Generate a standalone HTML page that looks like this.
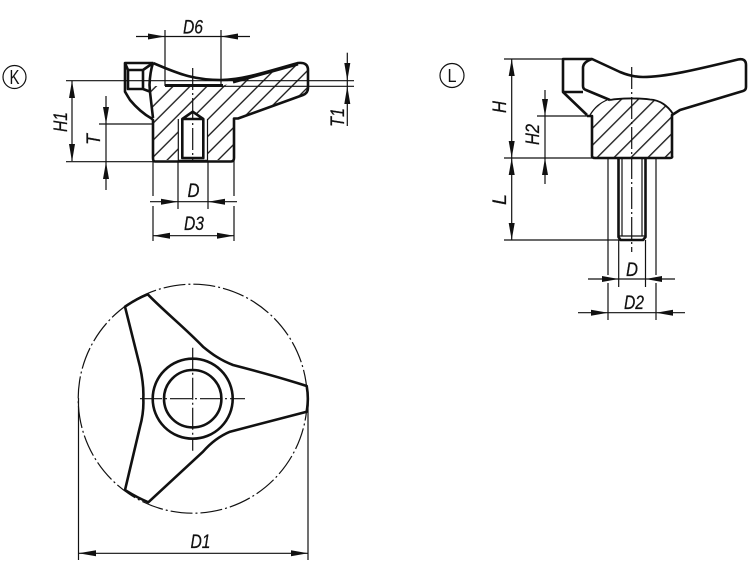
<!DOCTYPE html>
<html><head><meta charset="utf-8"><style>
html,body{margin:0;padding:0;background:#fff}
svg{display:block}
text{font-family:"Liberation Sans",sans-serif;font-style:italic;font-size:19px;fill:#111;stroke:#111;stroke-width:.25}
.t{stroke:#111;stroke-width:1.2;fill:none}
.k{stroke:#111;stroke-width:2.6;fill:none;stroke-linejoin:round}
.c{stroke:#111;stroke-width:1.2;fill:none;stroke-dasharray:22 3 2 3}
.a{fill:#111}
</style></head><body>
<svg width="750" height="563" viewBox="0 0 750 563" xmlns="http://www.w3.org/2000/svg">
<defs>
<pattern id="hk" width="12" height="12" patternUnits="userSpaceOnUse" patternTransform="rotate(-45)">
<rect width="12" height="12" fill="#fff"/><line x1="0" y1="3.4" x2="12" y2="3.4" stroke="#111" stroke-width="1.3"/>
</pattern>
<pattern id="hl" width="12" height="12" patternUnits="userSpaceOnUse" patternTransform="rotate(-45)">
<rect width="12" height="12" fill="#fff"/><line x1="0" y1="5.6" x2="12" y2="5.6" stroke="#111" stroke-width="1.3"/>
</pattern>
</defs>

<!-- K marker -->
<circle class="t" cx="14.5" cy="77" r="11.5"/>
<text x="9.5" y="84" style="font-style:normal;font-size:20px;stroke-width:0" textLength="10" lengthAdjust="spacingAndGlyphs">K</text>

<!-- K body -->
<path d="M125 63H153L165 68C180 74 195 80 221 80C240 80 260 74 298 63Q308 62 308 70V88Q308 93 303 95L240 118H234V158Q234 161 231 161H155Q153 161 153 158V118L151 118Q140 112 130 100L125 91.7Z" fill="#fff"/>
<path d="M150 86H165V86.5H221L233 82L298 64Q307 63 307 70V88Q307 93 303 95L240 118H234V160H208V119H178V160H153V118L150 92Z" fill="url(#hk)"/>
<rect x="179" y="119" width="28" height="39" fill="#fff"/>
<path d="M182 120L192.7 111.7L203.5 120Z" fill="#fff"/>
<rect x="178" y="158" width="30" height="3" fill="#fff"/>
<path class="k" d="M153 63H125V91.7L130 100Q140 112 151.5 118.5L153 120V158Q153 161.5 155 161.5H231Q234 161.5 234 158V118.5H238L303 95Q308 93 308 88V70Q308 62 298 63C260 74 240 80 221 80C195 80 180 74 165 68L153 63"/>
<path class="k" d="M128 70H143V89H128ZM125 63L128 70M153 63L143 70M143 89L151 92M153 63Q150 72 149.5 85L150 92L153 118"/>
<path class="k" style="stroke-width:3" d="M165 85.5H223M233 82L298 64"/>
<path class="k" d="M182.3 158V119L192.7 111.7L203.3 119V158ZM182.3 119H203.3M178 161H208"/>
<path class="t" d="M178.3 119V161M207.5 119V161"/>

<!-- K dims -->
<path class="t" d="M136 36.5H250M165 30V86M221 30V84"/>
<polygon class="a" points="165,36.5 148,33.5 148,39.5"/><polygon class="a" points="221,36.5 238,33.5 238,39.5"/>
<text x="183" y="33.5" textLength="20" lengthAdjust="spacingAndGlyphs">D6</text>
<path class="t" d="M66 80.7H354M165 86.3H354M66 161.7H153M72 81V161M99 124H153M106 96V190"/>
<polygon class="a" points="72,80.7 69,98 75,98"/><polygon class="a" points="72,161.7 69,144 75,144"/>
<polygon class="a" points="106,124 103,107 109,107"/><polygon class="a" points="106,162 103,179 109,179"/>
<path class="t" d="M347.3 52.7V126"/>
<polygon class="a" points="347.3,80.7 344.3,63 350.3,63"/><polygon class="a" points="347.3,86.3 344.3,104 350.3,104"/>
<text transform="translate(67,122) rotate(-90)" x="-10" y="0" textLength="20" lengthAdjust="spacingAndGlyphs">H1</text>
<text transform="translate(100,139) rotate(-90)" x="-6" y="0" textLength="11" lengthAdjust="spacingAndGlyphs">T</text>
<text transform="translate(344,117) rotate(-90)" x="-10" y="0" textLength="19" lengthAdjust="spacingAndGlyphs">T1</text>
<path class="c" d="M192.7 68V160"/>
<path class="t" d="M178 161V209M208 161V209M153 161V196M234 161V196M150 201.7H237M153 206V241M234 206V241M153 235.7H234"/>
<polygon class="a" points="178,201.7 161,198.7 161,204.7"/><polygon class="a" points="208,201.7 225,198.7 225,204.7"/>
<polygon class="a" points="153,235.7 170,232.7 170,238.7"/><polygon class="a" points="234,235.7 217,232.7 217,238.7"/>
<text x="187.5" y="197" textLength="12" lengthAdjust="spacingAndGlyphs">D</text>
<text x="184" y="230" textLength="20" lengthAdjust="spacingAndGlyphs">D3</text>

<!-- L marker -->
<circle class="t" cx="452" cy="75.5" r="12"/>
<text x="447.5" y="82" style="font-style:normal;font-size:18px;stroke-width:0" textLength="9" lengthAdjust="spacingAndGlyphs">L</text>

<!-- L body -->
<path d="M592 116C596 108 600 103 607 100C620 98 640 98 650 99.5C660 100 668 106 673 114L672.7 156Q672.7 158 670 158H595Q592 158 592 156Z" fill="url(#hl)"/>
<path class="k" d="M587 115L563 92V59H592L620 72Q632 77 643 77C665 77 695 70 738 59.5Q746 58 746 65V87Q746 90 743 91L680 110L672 115V156Q672.7 158 670 158H595Q592 158 592 156V116H587"/>
<path class="k" d="M592 59Q583 62 583 68V86Q583 89 586 90L610 100"/>
<path class="k" d="M563 92H583"/>
<path class="t" d="M590 115C595 107 600 103 607 100"/>
<path class="k" style="stroke-width:1.8" d="M610 100C620 98 640 98 650 99.5C660 100 668 106 673 114"/>
<path class="k" d="M618.5 158V237L620.5 240H643L645.5 237V158"/>
<path class="t" d="M622 158V236M642 158V236M619 236H645"/>
<path class="c" d="M631.7 67V252"/>
<path class="t" d="M504 59H563M504 158H592M504 240H620M511.7 59V240M537 116H587M545 90V184"/>
<polygon class="a" points="511.7,59 508.7,76 514.7,76"/><polygon class="a" points="511.7,158 508.7,141 514.7,141"/>
<polygon class="a" points="511.7,158 508.7,175 514.7,175"/><polygon class="a" points="511.7,240 508.7,223 514.7,223"/>
<polygon class="a" points="545,116 542,99 548,99"/><polygon class="a" points="545,158 542,175 548,175"/>
<text transform="translate(506,107) rotate(-90)" x="-6" y="0" textLength="12" lengthAdjust="spacingAndGlyphs">H</text>
<text transform="translate(506,199) rotate(-90)" x="-6" y="0" textLength="11" lengthAdjust="spacingAndGlyphs">L</text>
<text transform="translate(539,135) rotate(-90)" x="-10" y="0" textLength="21" lengthAdjust="spacingAndGlyphs">H2</text>
<path class="t" d="M608 158V275M656 158V275M608 283V320M656 283V320M618.7 240V287M645.5 240V287M588 279H675M578 312.7H685"/>
<polygon class="a" points="618.7,279 602,276 602,282"/><polygon class="a" points="645.5,279 662,276 662,282"/>
<polygon class="a" points="608,312.7 591,309.7 591,315.7"/><polygon class="a" points="656,312.7 673,309.7 673,315.7"/>
<text x="626" y="276" textLength="12" lengthAdjust="spacingAndGlyphs">D</text>
<text x="624" y="309" textLength="20" lengthAdjust="spacingAndGlyphs">D2</text>

<!-- Plan view -->
<circle class="c" cx="192.7" cy="398.7" r="114.5"/>
<path class="k" d="M306.7 386C285 379 260 372 233 365C220 360 212 354 203 346.7C185 328 165 312 147.7 294.3Q136 299 125 306.7C130 327 135 347 140 366.7Q144 385 143.3 398.7Q144 412 140 426.7L125 490Q136 497 148.3 502.3L203 451.7Q215 438 230 431.7L306.7 411.7Q309 399 306.7 386Z"/>
<circle class="k" cx="192.7" cy="398.7" r="40"/>
<circle class="k" cx="192.7" cy="398.7" r="28.7"/>
<path class="t" stroke-dasharray="22 3 2 3" d="M140 398.7H245M192.7 347.7V450.7"/>
<path class="t" d="M78.5 398V560M308 398V560M78.5 553.3H308"/>
<polygon class="a" points="78.5,553.3 96,550.3 96,556.3"/><polygon class="a" points="308,553.3 291,550.3 291,556.3"/>
<text x="190.5" y="548" textLength="20" lengthAdjust="spacingAndGlyphs">D1</text>
</svg>
</body></html>
